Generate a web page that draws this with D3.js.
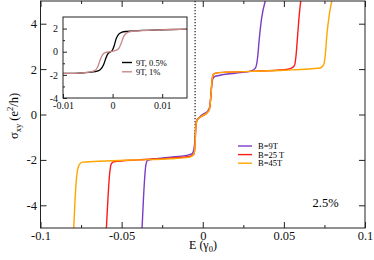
<!DOCTYPE html>
<html>
<head>
<meta charset="utf-8">
<script src="https://cdn.jsdelivr.net/npm/d3@7"></script>
<style>
  body { margin: 0; background: #fff; }
  text { font-family: "Liberation Serif", "DejaVu Serif", serif; }
</style>
</head>
<body>
<svg id="chart" width="374" height="260"></svg>
<script>
// Data
var seriesNames = ["B=9T", "B=25 T", "B=45T"];
var seriesColors = ["#7b3cc6", "#ff1a1a", "#ffa500"];

var b9E = [-0.0374, -0.0366, -0.0358, -0.0350, -0.0340, -0.030, -0.020, -0.010, -0.0065, -0.0055, -0.0048, -0.0043, -0.0036, -0.002, 0, 0.003, 0.0043, 0.0052, 0.0058, 0.0068, 0.010, 0.020, 0.030, 0.0325, 0.0338, 0.0348, 0.0362, 0.0385];
var b9S = [-5, -3.8, -2.8, -2.2, -2.02, -1.96, -1.88, -1.80, -1.72, -1.55, -1.1, -0.5, -0.25, -0.12, 0, 0.15, 0.35, 1.0, 1.45, 1.65, 1.72, 1.82, 1.92, 2.05, 2.5, 3.3, 4.2, 5];

var b25E = [-0.0594, -0.0585, -0.0575, -0.0565, -0.0550, -0.040, -0.020, -0.008, -0.0055, -0.0048, -0.0043, -0.0038, -0.003, 0, 0.003, 0.0042, 0.0050, 0.0057, 0.0065, 0.008, 0.014, 0.030, 0.050, 0.054, 0.0565, 0.0575, 0.0585, 0.0595, 0.0604];
var b25S = [-5, -3.8, -2.7, -2.2, -2.08, -2.0, -1.92, -1.85, -1.75, -1.4, -0.6, -0.3, -0.2, -0.05, 0.1, 0.25, 0.8, 1.5, 1.75, 1.82, 1.86, 1.9, 1.97, 2.02, 2.15, 2.6, 3.5, 4.4, 5];

var b45E = [-0.0795, -0.0785, -0.0775, -0.0760, -0.0740, -0.060, -0.040, -0.020, -0.008, -0.0055, -0.0048, -0.0043, -0.0038, -0.003, 0, 0.003, 0.0042, 0.0050, 0.0057, 0.0065, 0.008, 0.014, 0.030, 0.050, 0.0723, 0.0745, 0.0755, 0.0765, 0.0780, 0.0795];
var b45S = [-5, -3.5, -2.6, -2.2, -2.1, -2.05, -2.0, -1.95, -1.88, -1.75, -1.4, -0.6, -0.3, -0.2, -0.05, 0.1, 0.25, 0.8, 1.5, 1.75, 1.82, 1.86, 1.9, 1.95, 2.05, 2.2, 2.6, 3.5, 4.4, 5];

// inset: 9T at two strains
var insetNames = ["9T, 0.5%", "9T, 1%"];
var insetColors = ["#000000", "#c98888"];
var s05E = [-0.010, -0.006, -0.0035, -0.0025, -0.0018, -0.0013, -0.0009, -0.0005, -0.0001, 0.0003, 0.0007, 0.0012, 0.0018, 0.003, 0.006, 0.010, 0.015];
var s05S = [-1.88, -1.82, -1.72, -1.55, -1.1, -0.5, -0.15, -0.02, 0.1, 0.5, 1.1, 1.5, 1.68, 1.76, 1.84, 1.9, 1.95];
var s1E = [-0.010, -0.006, -0.0045, -0.0035, -0.003, -0.0025, -0.002, -0.0015, -0.0005, 0.0005, 0.0012, 0.0017, 0.0022, 0.0028, 0.0036, 0.005, 0.008, 0.012, 0.015];
var s1S = [-1.88, -1.82, -1.75, -1.6, -1.3, -0.7, -0.25, -0.08, 0.0, 0.1, 0.25, 0.7, 1.3, 1.6, 1.74, 1.8, 1.86, 1.92, 1.95];

// ticks
var xTicks = [-0.1, -0.05, 0, 0.05, 0.1];
var xTickLabels = ["-0.1", "-0.05", "0", "0.05", "0.1"];
var xMinor = [-0.075, -0.025, 0.025, 0.075];
var yTicks = [-4, -2, 0, 2, 4];
var yTickLabels = ["-4", "-2", "0", "2", "4"];
var inXTicks = [-0.01, 0, 0.01];
var inXTickLabels = ["-0.01", "0", "0.01"];
var inYTicks = [-4, -2, 0, 2];
var inYTickLabels = ["-4", "-2", "0", "2"];
var inYMinor = [-3, -1, 1];

var dotE = -0.0047;
var dotTop = 5;
var dotBottom = -1.2;

function pts(xs, ys) {
  var out = [];
  for (var i = 0; i < xs.length; i++) out.push({x: xs[i], y: ys[i]});
  return out;
}

var mainSeries = [pts(b9E, b9S), pts(b25E, b25S), pts(b45E, b45S)];
var insetSeries = [pts(s05E, s05S), pts(s1E, s1S)];

var svg = d3.select("#chart");

// Main plot
var m = { left: 40.5, right: 365, top: 1, bottom: 228 };
var x = d3.scaleLinear().domain([-0.1, 0.1]).range([m.left, m.right]);
var y = d3.scaleLinear().domain([-5, 5]).range([m.bottom, m.top]);

svg.append("defs").append("clipPath").attr("id", "mainClip")
  .append("rect")
  .attr("x", m.left).attr("y", m.top)
  .attr("width", m.right - m.left).attr("height", m.bottom - m.top);

function styleAxis(g, fs) {
  g.select(".domain").remove();
  g.selectAll("line").attr("stroke", "#222");
  g.selectAll("text")
    .attr("fill", "#111")
    .style("font-family", "Liberation Serif, serif")
    .style("font-size", fs + "px");
}

// bottom
svg.append("g").attr("transform", `translate(0,${m.bottom})`)
  .call(d3.axisBottom(x).tickValues(xTicks).tickSize(-6).tickPadding(3.5)
    .tickFormat((d, i) => xTickLabels[i]))
  .call(g => styleAxis(g, 12.5));
svg.append("g").attr("transform", `translate(0,${m.bottom})`)
  .call(d3.axisBottom(x).tickValues(xMinor).tickSize(-3).tickFormat(""))
  .call(g => styleAxis(g, 12));
// top
svg.append("g").attr("transform", `translate(0,${m.top})`)
  .call(d3.axisTop(x).tickValues(xTicks).tickSize(-6).tickFormat(""))
  .call(g => styleAxis(g, 12));
svg.append("g").attr("transform", `translate(0,${m.top})`)
  .call(d3.axisTop(x).tickValues(xMinor).tickSize(-3).tickFormat(""))
  .call(g => styleAxis(g, 12));
// left
svg.append("g").attr("transform", `translate(${m.left},0)`)
  .call(d3.axisLeft(y).tickValues(yTicks).tickSize(-6).tickPadding(3.5)
    .tickFormat((d, i) => yTickLabels[i]))
  .call(g => styleAxis(g, 12.5));
// right
svg.append("g").attr("transform", `translate(${m.right},0)`)
  .call(d3.axisRight(y).tickValues(yTicks).tickSize(-6).tickFormat(""))
  .call(g => styleAxis(g, 12));

// dotted line
svg.append("line")
  .attr("x1", x(dotE)).attr("x2", x(dotE))
  .attr("y1", y(dotTop)).attr("y2", y(dotBottom))
  .attr("stroke", "#555")
  .attr("stroke-width", 1.6)
  .attr("stroke-dasharray", "1.2,1.8");

var line = d3.line()
  .x(d => x(d.x))
  .y(d => y(d.y))
  .curve(d3.curveMonotoneX);

svg.append("g").attr("clip-path", "url(#mainClip)")
  .selectAll("path")
  .data(mainSeries)
  .enter()
  .append("path")
  .attr("d", line)
  .attr("fill", "none")
  .attr("stroke", (d, i) => seriesColors[i])
  .attr("stroke-width", 1.4);

// frame
svg.append("rect")
  .attr("x", m.left).attr("y", m.top)
  .attr("width", m.right - m.left).attr("height", m.bottom - m.top)
  .attr("fill", "none").attr("stroke", "#222").attr("stroke-width", 1);

// axis labels
svg.append("text")
  .attr("x", 203).attr("y", 248.5)
  .attr("text-anchor", "middle")
  .style("font-size", "12px")
  .html('E (γ<tspan dy="3" font-size="8.5">0</tspan><tspan dy="-3">)</tspan>');

svg.append("text")
  .attr("transform", "translate(18,116) rotate(-90)")
  .attr("text-anchor", "middle")
  .style("font-size", "12.5px")
  .html('σ<tspan dy="3" font-size="8.5">xy</tspan><tspan dy="-3"> (e</tspan><tspan dy="-5" font-size="8.5">2</tspan><tspan dy="5">/h)</tspan>');

// legend
var leg = svg.append("g");
seriesNames.forEach(function(name, i) {
  var ly = 146 + i * 8.6;
  leg.append("line")
    .attr("x1", 238).attr("x2", 252).attr("y1", ly).attr("y2", ly)
    .attr("stroke", seriesColors[i]).attr("stroke-width", 1.4);
  leg.append("text")
    .attr("x", 258).attr("y", ly + 3)
    .style("font-size", "8.5px")
    .text(name);
});

svg.append("text")
  .attr("x", 312.5).attr("y", 207)
  .style("font-size", "12.5px")
  .text("2.5%");

// Inset
var n = { left: 63, right: 187, top: 17, bottom: 98 };
var xi = d3.scaleLinear().domain([-0.01, 0.015]).range([n.left, n.right]);
var yi = d3.scaleLinear().domain([-4, 3]).range([n.bottom, n.top]);

svg.append("rect")
  .attr("x", n.left).attr("y", n.top)
  .attr("width", n.right - n.left).attr("height", n.bottom - n.top)
  .attr("fill", "#fff");

svg.select("defs").append("clipPath").attr("id", "insetClip")
  .append("rect")
  .attr("x", n.left).attr("y", n.top)
  .attr("width", n.right - n.left).attr("height", n.bottom - n.top);

svg.append("g").attr("transform", `translate(0,${n.bottom})`)
  .call(d3.axisBottom(xi).tickValues(inXTicks).tickSize(-4).tickPadding(4)
    .tickFormat((d, i) => inXTickLabels[i]))
  .call(g => styleAxis(g, 10));
svg.append("g").attr("transform", `translate(${n.left},0)`)
  .call(d3.axisLeft(yi).tickValues(inYTicks).tickSize(-4).tickPadding(5)
    .tickFormat((d, i) => inYTickLabels[i]))
  .call(g => styleAxis(g, 10));
svg.append("g").attr("transform", `translate(${n.left},0)`)
  .call(d3.axisLeft(yi).tickValues(inYMinor).tickSize(-2).tickFormat(""))
  .call(g => styleAxis(g, 10));

var lineIn = d3.line()
  .x(d => xi(d.x))
  .y(d => yi(d.y))
  .curve(d3.curveMonotoneX);

svg.append("g").attr("clip-path", "url(#insetClip)")
  .selectAll("path")
  .data(insetSeries)
  .enter()
  .append("path")
  .attr("d", lineIn)
  .attr("fill", "none")
  .attr("stroke", (d, i) => insetColors[i])
  .attr("stroke-width", 1.3);

svg.append("rect")
  .attr("x", n.left).attr("y", n.top)
  .attr("width", n.right - n.left).attr("height", n.bottom - n.top)
  .attr("fill", "none").attr("stroke", "#222").attr("stroke-width", 1);

var inLeg = svg.append("g");
insetNames.forEach(function(name, i) {
  var ly = 62.5 + i * 9.3;
  inLeg.append("line")
    .attr("x1", 122).attr("x2", 132).attr("y1", ly).attr("y2", ly)
    .attr("stroke", insetColors[i]).attr("stroke-width", 1.4);
  inLeg.append("text")
    .attr("x", 136).attr("y", ly + 3)
    .style("font-size", "8.5px")
    .text(name);
});
</script>
</body>
</html>
